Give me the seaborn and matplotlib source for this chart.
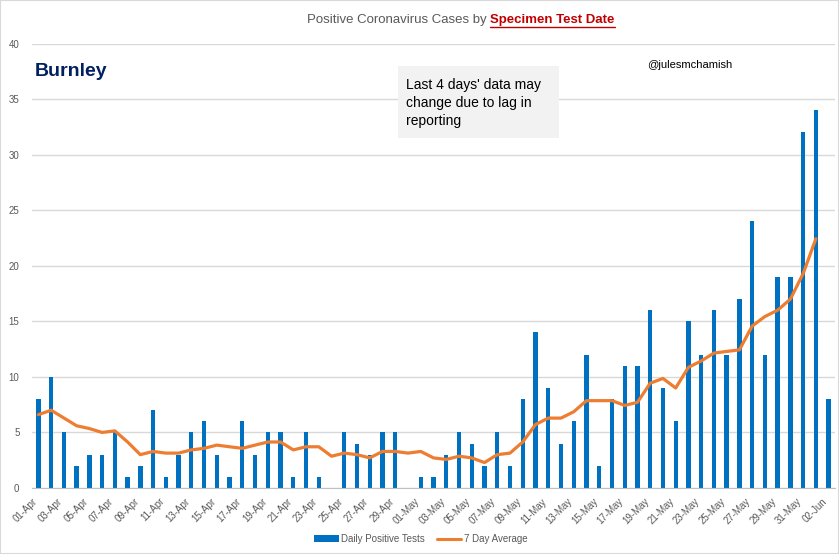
import numpy as np
import pandas as pd
import matplotlib
matplotlib.use('Agg')
import matplotlib.pyplot as plt
import matplotlib.transforms as mtransforms
import seaborn as sns
from matplotlib.patches import Patch, Rectangle
from matplotlib.lines import Line2D

# daily positive tests, 01-Apr .. 02-Jun
dates = pd.date_range('2020-04-01', '2020-06-02', freq='D')
date_labels = [d.strftime('%d-%b') for d in dates]

daily_cases = [8, 10, 5, 2, 3, 3, 5, 1, 2, 7, 1, 3, 5, 6, 3, 1, 6, 3, 5, 5,
               1, 5, 1, 0, 5, 4, 3, 5, 5, 0,
               1, 1, 3, 5, 4, 2, 5, 2, 8, 14, 9, 4, 6, 12, 2, 8, 11, 11, 16, 9,
               6, 15, 12, 16, 12, 17, 24, 12, 19, 19, 32,
               34, 8]

# 7 day average (no value on 02-Jun)
seven_day_avg = [6.6, 7.0, 6.3, 5.6, 5.35, 5.0, 5.14, 4.14, 3.0, 3.29,
                 3.14, 3.14, 3.43, 3.57, 3.86, 3.71, 3.57, 3.86, 4.14, 4.14,
                 3.43, 3.71, 3.71, 2.86, 3.14, 3.0, 2.71, 3.29, 3.29, 3.14,
                 3.29, 2.71, 2.57, 2.86, 2.71, 2.29, 3.0, 3.14, 4.14, 5.71,
                 6.29, 6.29, 6.86, 7.86, 7.86, 7.86, 7.43, 7.71, 9.43, 9.86,
                 9.0, 10.86, 11.43, 12.14, 12.29, 12.43, 14.57, 15.43, 16.0, 17.0,
                 19.29, 22.43]

y_ticks = [0, 5, 10, 15, 20, 25, 30, 35, 40]

BLUE = '#0070C0'
ORANGE = '#ED7D31'
GREY_TXT = '#595959'

sns.set_style('white')
plt.rcParams['font.family'] = ['Liberation Sans', 'DejaVu Sans']

df = pd.DataFrame({'date': date_labels, 'cases': daily_cases})

fig = plt.figure(figsize=(8.39, 5.54), dpi=100)
ax = fig.add_axes([32 / 839, 1 - 488 / 554, (835 - 32) / 839, (488 - 43.5) / 554])

sns.barplot(data=df, x='date', y='cases', color=BLUE, width=0.34,
            saturation=1, linewidth=0, ax=ax, zorder=2)
sns.lineplot(x=np.arange(len(seven_day_avg)), y=seven_day_avg, color=ORANGE,
             linewidth=2.3, ax=ax, zorder=3)

ax.set_xlim(-0.5, len(daily_cases) - 0.5)
ax.set_ylim(0, 40)
ax.set_yticks(y_ticks)
ax.set_yticklabels([str(t) for t in y_ticks], color=GREY_TXT, fontsize=7)
ax.yaxis.grid(True, color='#d9d9d9', linewidth=1)
ax.set_axisbelow(True)

tick_pos = [i - 0.5 for i in range(0, len(date_labels), 2)]
ax.set_xticks(tick_pos)
ax.set_xticklabels(date_labels[::2], rotation=45, ha='right',
                   rotation_mode='anchor', color=GREY_TXT, fontsize=7)
shift = mtransforms.ScaledTranslation(5 / 100, -2 / 100, fig.dpi_scale_trans)
for lbl in ax.get_xticklabels():
    lbl.set_transform(lbl.get_transform() + shift)
ax.tick_params(axis='x', length=4, color='#bfbfbf', pad=2)
ax.tick_params(axis='y', length=0, pad=9)
ax.set_xlabel('')
ax.set_ylabel('')
for s in ['top', 'right', 'left']:
    ax.spines[s].set_visible(False)
ax.spines['bottom'].set_color('#bfbfbf')

# title with underlined red part
renderer = fig.canvas.get_renderer()
t1 = fig.text(307 / 839, 1 - 20 / 554, 'Positive Coronavirus Cases by ',
              color=GREY_TXT, fontsize=9.5, va='center', ha='left')
bb = t1.get_window_extent(renderer)
t2 = fig.text(bb.x1 / 839, 1 - 20 / 554, 'Specimen Test Date',
              color='#C00000', fontsize=9.5, fontweight='bold', va='center', ha='left')
bb2 = t2.get_window_extent(renderer)
fig.add_artist(Line2D([bb2.x0 / 839, bb2.x1 / 839], [(bb2.y0 - 1) / 554] * 2,
                      color='#C00000', linewidth=1))

fig.text(35 / 839, 1 - 72 / 554, 'Burnley', color='#002060', fontsize=14,
         fontweight='bold', va='center', ha='left')
fig.text(647 / 839, 1 - 65 / 554, '@julesmchamish', color='black', fontsize=8,
         va='center', ha='left')

fig.add_artist(Rectangle((398 / 839, 1 - 138 / 554), 161 / 839, 72 / 554,
                         transform=fig.transFigure, facecolor='#f2f2f2',
                         edgecolor='none', zorder=4))
fig.text(406 / 839, 1 - 103 / 554,
         "Last 4 days' data may\nchange due to lag in\nreporting",
         color='black', fontsize=10, va='center', ha='left', linespacing=1.35,
         zorder=5)

handles = [Patch(facecolor=BLUE, edgecolor='none'),
           Line2D([0], [0], color=ORANGE, linewidth=2.2)]
fig.legend(handles, ['Daily Positive Tests', '7 Day Average'], loc='center',
           bbox_to_anchor=(421 / 839, 1 - 539 / 554), ncol=2, frameon=False,
           fontsize=7, labelcolor=GREY_TXT, handlelength=2.5, handleheight=0.6,
           columnspacing=1.2, handletextpad=0.3)

fig.add_artist(Rectangle((0, 0), 1, 1, transform=fig.transFigure,
                         facecolor='none', edgecolor='#d9d9d9', linewidth=1.5))

fig.savefig('out.png', dpi=100)
